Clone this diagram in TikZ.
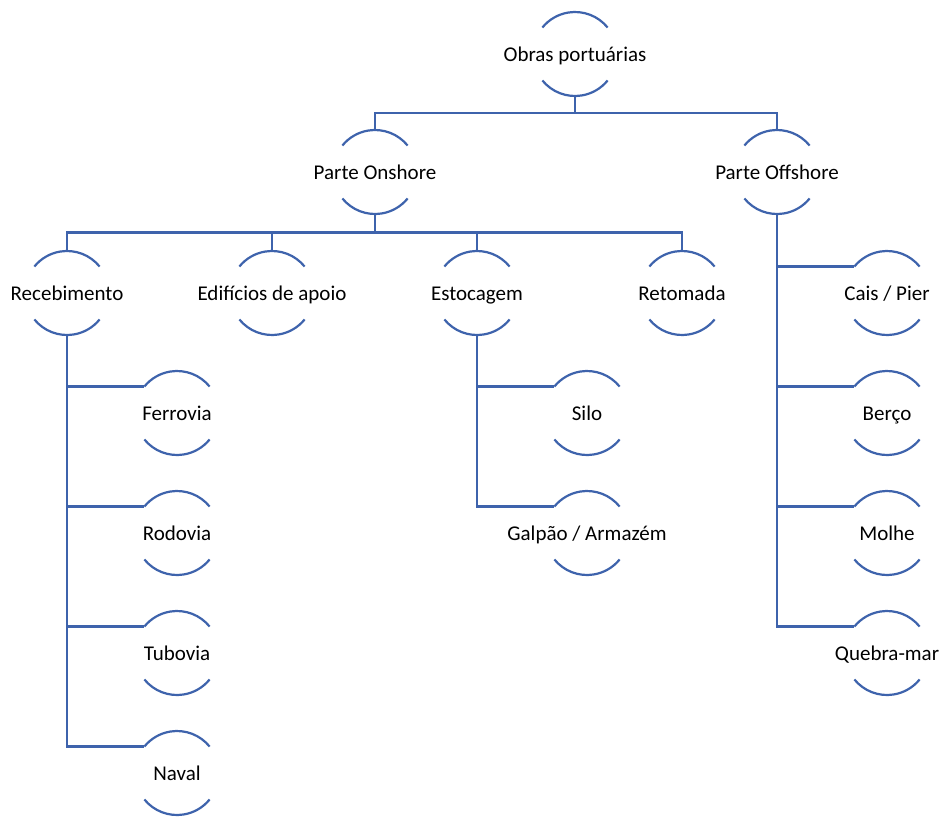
\documentclass[tikz,border=0pt]{standalone}
\usepackage{fontspec}
\setmainfont{Carlito}
\definecolor{lineblue}{RGB}{62,99,172}
\begin{document}
\begin{tikzpicture}[
  x=1pt,y=1pt,
  unit/.style={circle,minimum size=84pt,inner sep=0pt,outer sep=0pt,
    label={[font=\fontsize{21}{25}\selectfont,text=black,
            text height=16pt,text depth=0.5pt,inner sep=0pt]center:#1}},
  conn/.style={draw=lineblue,line width=2.2pt},
]
\useasboundingbox (0,0) rectangle (944,-816);

% top level
\node[unit={Obras portuárias}] (obras) at (575,-54) {};

% second level
\node[unit={Parte Onshore}]  (on)  at (375,-172) {};
\node[unit={Parte Offshore}] (off) at (777,-172) {};

% onshore branches
\node[unit={Recebimento}]        (rec) at (67,-293) {};
\node[unit={Edifícios de apoio}] (edi) at (272,-293) {};
\node[unit={Estocagem}]          (est) at (477,-293) {};
\node[unit={Retomada}]           (ret) at (682,-293) {};

% reception modes
\node[unit={Ferrovia}] (fer) at (177,-413) {};
\node[unit={Rodovia}]  (rod) at (177,-533) {};
\node[unit={Tubovia}]  (tub) at (177,-653) {};
\node[unit={Naval}]    (nav) at (177,-773) {};

% storage types
\node[unit={Silo}]             (silo) at (587,-413) {};
\node[unit={Galpão / Armazém}] (gal)  at (587,-533) {};

% offshore structures
\node[unit={Cais / Pier}] (cais) at (887,-293) {};
\node[unit={Berço}]       (ber)  at (887,-413) {};
\node[unit={Molhe}]       (mol)  at (887,-533) {};
\node[unit={Quebra-mar}]  (qm)   at (887,-653) {};

% upper and lower arcs of every unit
\foreach \n in {obras,on,off,rec,edi,est,ret,fer,rod,tub,nav,silo,gal,cais,ber,mol,qm}{
  \draw[conn] (\n.39) arc[start angle=39,end angle=141,radius=42pt];
  \draw[conn] (\n.219) arc[start angle=219,end angle=321,radius=42pt];
}

% hierarchy connectors
\draw[conn] (obras.south) -- ++(0,-17) -| (on.north);
\draw[conn] (obras.south) -- ++(0,-17) -| (off.north);

\foreach \c in {rec,edi,est,ret}{
  \draw[conn] (on.south) -- ++(0,-18.5) -| (\c.north);
}

\foreach \c in {fer,rod,tub,nav}{
  \draw[conn] (rec.south) |- (\c.141);
}
\foreach \c in {silo,gal}{
  \draw[conn] (est.south) |- (\c.141);
}
\foreach \c in {cais,ber,mol,qm}{
  \draw[conn] (off.south) |- (\c.141);
}
\end{tikzpicture}
\end{document}
